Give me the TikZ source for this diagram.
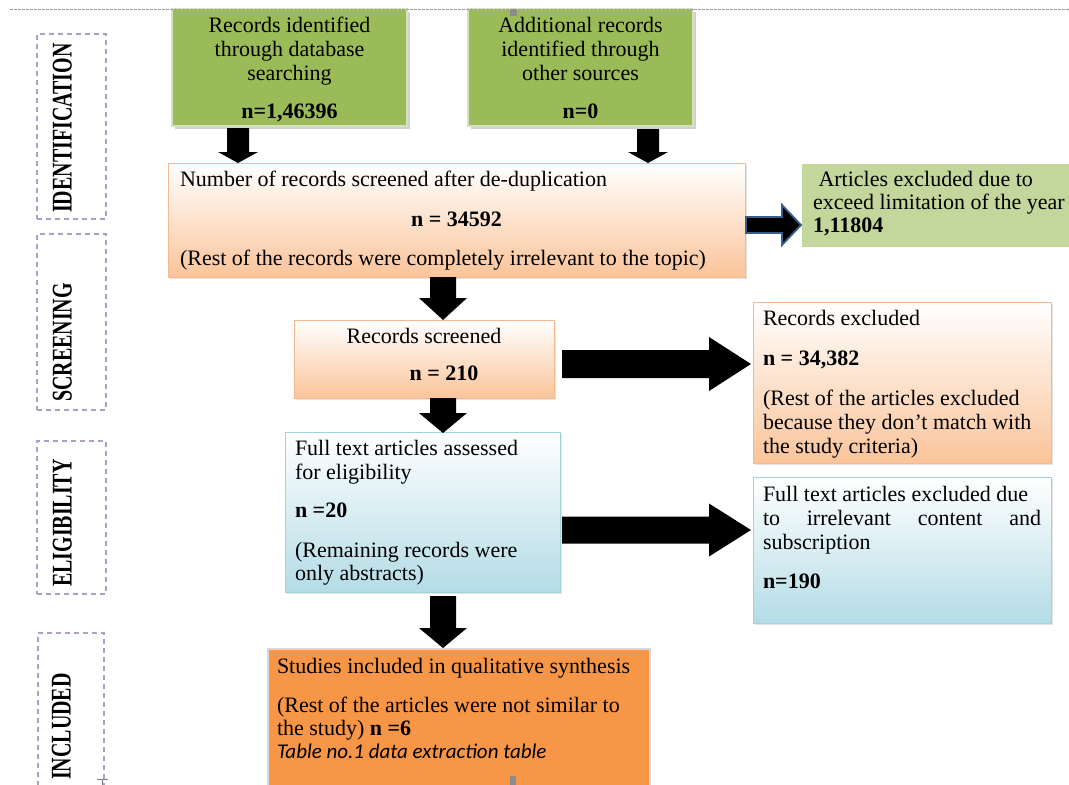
\documentclass[tikz,border=0pt]{standalone}
\usepackage{fontspec}
\usepackage{graphicx}
\setmainfont{Liberation Serif}
\newfontfamily\carlito{Carlito}
\usetikzlibrary{calc,shadows}
\definecolor{grnf}{HTML}{9BBB59}
\definecolor{grnedge}{HTML}{D5E3BC}
\definecolor{limef}{HTML}{C3D69B}
\definecolor{peachf}{HTML}{FAC49A}
\definecolor{peachedge}{HTML}{F6B98D}
\definecolor{bluef}{HTML}{B4DCE6}
\definecolor{blueedge}{HTML}{A2D2DF}
\definecolor{orngf}{HTML}{F79646}
\definecolor{orngedge}{HTML}{D8D8D8}
\definecolor{lavd}{HTML}{AE9CCB}
\definecolor{arrowblue}{HTML}{385D8A}
\newcommand\bx[3]{\parbox[t][#2][t]{#1}{#3}}
\newcommand\stagetext[1]{\scalebox{0.7}[1]{\fontsize{28.5}{30}\selectfont\bfseries #1}}
\newcommand\blockdown[6]{\path[#6] let \p1=#1, \p2=#2 in
  (\x1-#3,\y1) -- (\x1+#3,\y1) -- (\x1+#3,\y2+#5) -- (\x1+#4,\y2+#5) -- (\x1,\y2)
  -- (\x1-#4,\y2+#5) -- (\x1-#3,\y2+#5) -- cycle;}
\newcommand\blockright[6]{\path[#6] let \p1=#1, \p2=#2 in
  (\x1,\y1+#3) -- (\x2-#5,\y1+#3) -- (\x2-#5,\y1+#4) -- (\x2,\y1)
  -- (\x2-#5,\y1-#4) -- (\x2-#5,\y1-#3) -- (\x1,\y1-#3) -- cycle;}
\begin{document}
\begin{tikzpicture}[x=1pt,y=-1pt,
  panel/.style={anchor=north west, inner ysep=0pt, outer sep=0pt,
    font=\fontsize{22}{24}\selectfont},
  softshadow/.style={drop shadow={shadow xshift=2.5pt, shadow yshift=-3pt, fill=black!40, opacity=0.45}},
  lightshadow/.style={drop shadow={shadow xshift=1.5pt, shadow yshift=-2pt, fill=black!30, opacity=0.35}},
  greenbox/.style={panel, fill=grnf, draw=grnedge, line width=1.2pt, softshadow},
  peachbox/.style={panel, top color=white, bottom color=peachf, draw=peachedge, line width=1pt, lightshadow},
  bluebox/.style={panel, top color=white, bottom color=bluef, draw=blueedge, line width=1pt, lightshadow},
  orangebox/.style={panel, fill=orngf, draw=orngedge, line width=1.2pt},
  limebox/.style={panel, fill=limef},
  stagebox/.style={anchor=north west, inner sep=0pt, draw=lavd, line width=1.8pt, dash pattern=on 5pt off 4pt},
  stagelabel/.style={rotate=90, anchor=south west, inner sep=0pt},
  blockfill/.style={fill=black},
  blockblue/.style={fill=black, draw=arrowblue, line width=1.8pt, line join=miter},
  topline/.style={draw=black!40, line width=0.8pt, dash pattern=on 2.5pt off 1.5pt},
  handle/.style={fill=black!45}
]
\clip (0,0) rectangle (1069,785);
\fill[white] (0,0) rectangle (1069,785);

% stage boxes and labels
\node[stagebox, minimum width=69pt, minimum height=185pt] (sid) at (36,33) {};
\node[stagebox, minimum width=69pt, minimum height=176pt] (sscr) at (36,233) {};
\node[stagebox, minimum width=69pt, minimum height=153pt] (selg) at (36,440) {};
\node[stagebox, minimum width=66pt, minimum height=170pt] (sinc) at (37,632) {};
\node[stagelabel] (lid) at (72,213) {\stagetext{IDENTIFICATION}};
\node[stagelabel] (lscr) at (72,402) {\stagetext{SCREENING}};
\node[stagelabel] (lelg) at (72,587) {\stagetext{ELIGIBILITY}};
\node[stagelabel] (linc) at (71,780) {\stagetext{INCLUDED}};

% main boxes
\node[greenbox, inner xsep=8pt] (b1) at (172,9) {\bx{219pt}{117pt}{\centering\rule{0pt}{23pt}Records identified\\through database\\searching\\[14pt]\textbf{n=1,46396}}};
\node[greenbox, inner xsep=8pt] (b2) at (468,9) {\bx{209pt}{117pt}{\centering\rule{0pt}{23pt}Additional records\\identified through\\other sources\\[14pt]\textbf{n=0}}};
\node[peachbox, inner xsep=12pt] (b3) at (168,163) {\bx{553pt}{114pt}{\rule{0pt}{23pt}Number of records screened after de-duplication\\[16pt]\makebox[\linewidth]{\textbf{n = 34592}}\\[15pt](Rest of the records were completely irrelevant to the topic)}};
\node[limebox, inner xsep=11pt] (b4) at (802,164) {\bx{278pt}{83pt}{\rule{0pt}{22pt}\ Articles excluded due to\\[-1pt]exceed limitation of the year\\[-1pt]\textbf{1,11804}}};
\node[peachbox, inner xsep=8pt] (b5) at (294,320) {\bx{244pt}{78pt}{\centering\rule{0pt}{23pt}Records screened\\[13pt]\hspace*{40pt}\textbf{n = 210}}};
\node[bluebox, inner xsep=10pt] (b6) at (285,432) {\bx{255pt}{160pt}{\rule{0pt}{23pt}Full text articles assessed\\for eligibility\\[14pt]\textbf{n =20}\\[16pt](Remaining records were\\[-1pt]only abstracts)}};
\node[peachbox, inner xsep=10pt] (b8) at (753,302) {\bx{278pt}{161pt}{\rule{0pt}{23pt}Records excluded\\[16pt]\textbf{n = 34,382}\\[16pt](Rest of the articles excluded\\because they don’t match with\\the study criteria)}};
\node[bluebox, inner xsep=10pt] (b9) at (753,477) {\bx{278pt}{146pt}{\rule{0pt}{24pt}Full text articles excluded due\\to\hfill irrelevant\hfill content\hfill and\\subscription\\[15pt]\textbf{n=190}}};
\node[orangebox, inner xsep=9pt] (b7) at (268,649) {\bx{364pt}{150pt}{\rule{0pt}{24pt}Studies included in qualitative synthesis\\[15pt](Rest of the articles were not similar to\\[-1pt]the study) \textbf{n =6}\\[-1pt]{\carlito\itshape\fontsize{21}{23}\selectfont Table no.1 data extraction table}}};

% helper coordinates for arrow lines
\coordinate (c1) at (238,0);
\coordinate (c2) at (648,0);
\coordinate (cm) at (443,0);
\coordinate (r0) at (0,225);
\coordinate (r1) at (0,364);
\coordinate (r2) at (0,530);

% block arrows
\blockdown{($(c1 |- b1.south)+(0,2)$)}{(c1 |- b3.north)}{11pt}{20pt}{11pt}{blockfill}
\blockdown{($(c2 |- b2.south)+(0,3)$)}{(c2 |- b3.north)}{11pt}{20pt}{11pt}{blockfill}
\blockdown{(cm |- b3.south)}{(cm |- b5.north)}{13pt}{24pt}{22pt}{blockfill}
\blockdown{(cm |- b5.south)}{($(cm |- b6.north)+(0,1)$)}{13pt}{24pt}{20pt}{blockfill}
\blockdown{($(cm |- b6.south)+(0,4)$)}{($(cm |- b7.north)+(0,-1)$)}{13pt}{24pt}{20pt}{blockfill}
\blockright{($(b3.east |- r0)+(1,0)$)}{($(b4.west |- r0)+(-1,0)$)}{8pt}{20pt}{19pt}{blockblue}
\blockright{($(b5.east |- r1)+(8,0)$)}{($(b8.west |- r1)+(-2,0)$)}{14pt}{27pt}{42pt}{blockfill}
\blockright{($(b6.east |- r2)+(2,0)$)}{($(b9.west |- r2)+(-2,0)$)}{13.5pt}{26.5pt}{42pt}{blockfill}

% top dashed guide line and selection marks
\draw[topline] (10,9) -- (1069,9);
\fill[handle] (510,9) rectangle (517,16);
\fill[handle] (510,776) rectangle (516,785);
\draw[black!50, line width=1pt] (97,779) -- (108,779) (102,779) -- (102,785);
\end{tikzpicture}
\end{document}
